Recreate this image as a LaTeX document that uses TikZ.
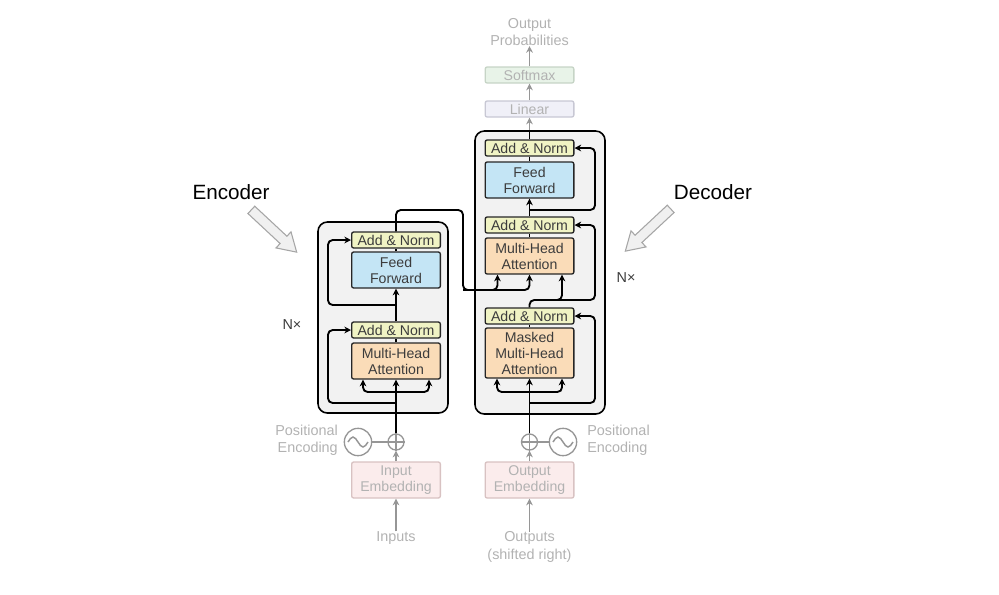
\documentclass[tikz,border=0pt]{standalone}
\usepackage{fontspec}
\setmainfont{Liberation Sans}
\usetikzlibrary{arrows.meta,calc}
\definecolor{blockgray}{RGB}{242,242,242}
\definecolor{addcol}{RGB}{240,243,196}
\definecolor{ffcol}{RGB}{196,229,245}
\definecolor{attcol}{RGB}{250,220,184}
\definecolor{boxtext}{RGB}{60,60,60}
\definecolor{fadetxt}{RGB}{178,178,178}
\definecolor{fadeln}{RGB}{150,150,150}
\definecolor{linfill}{RGB}{240,240,248}
\definecolor{linedge}{RGB}{200,200,212}
\definecolor{smfill}{RGB}{232,243,232}
\definecolor{smedge}{RGB}{198,212,198}
\definecolor{embfill}{RGB}{251,236,236}
\definecolor{embedge}{RGB}{216,194,194}
\begin{document}
\begin{tikzpicture}[x=0.75pt,y=-0.75pt,
  blk/.style={draw=black, line width=1.2pt, fill=blockgray, rounded corners=7pt, minimum width=97.5pt},
  stack/.style={draw=black!85, line width=1pt, rounded corners=1.5pt, minimum width=66.5pt, inner sep=0pt, align=center, text=boxtext, font=\fontsize{10.6}{12}\selectfont},
  addbox/.style={stack, fill=addcol, minimum height=12pt},
  ffbox/.style={stack, fill=ffcol, minimum height=27pt},
  attbox/.style={stack, fill=attcol, minimum height=27pt},
  fadebox/.style={stack, text=fadetxt, minimum height=12pt},
  fadetext/.style={text=fadetxt, align=center, inner sep=0pt, font=\fontsize{10.8}{13}\selectfont},
  lbl/.style={text=boxtext, inner sep=0pt, font=\fontsize{10.8}{12}\selectfont},
  biglbl/.style={text=black, inner sep=0pt, font=\fontsize{15.5}{18}\selectfont},
  conn/.style={line width=1.4pt, rounded corners=3.5pt},
  arr/.style={conn, -{Stealth[length=5pt,width=5pt]}},
  fadeline/.style={draw=fadeln, line width=1.1pt},
  hollow/.style={draw=gray!70, line width=0.8pt, fill=gray!12, line join=miter}]
\useasboundingbox (0,0) rectangle (999,594);

\node[blk, minimum height=143.25pt] (encblock) at (383,317.5) {};
\node[blk, minimum height=212.25pt] (decblock) at (540,272.5) {};

\node[addbox] (eaddtop) at (396,240) {Add \& Norm};
\node[ffbox] (eff) at (396,270) {Feed\\Forward};
\node[addbox] (eaddlow) at (396,330) {Add \& Norm};
\node[attbox] (emha) at (396,361) {Multi-Head\\Attention};

\node[addbox] (daddtop) at (529.5,148) {Add \& Norm};
\node[ffbox] (dff) at (529.5,180) {Feed\\Forward};
\node[addbox] (daddmid) at (529.5,225) {Add \& Norm};
\node[attbox] (dmha) at (529.5,256) {Multi-Head\\Attention};
\node[addbox] (daddlow) at (529.5,316) {Add \& Norm};
\node[attbox, minimum height=37.5pt] (dmmha) at (529.5,353) {Masked\\Multi-Head\\Attention};

\node[fadebox, draw=linedge, fill=linfill] (linear) at (529.5,109) {Linear};
\node[fadebox, draw=smedge, fill=smfill] (softmax) at (529.5,75) {Softmax};
\node[fadetext] (probs) at (529.5,32) {Output\\Probabilities};

\node[fadebox, draw=embedge, fill=embfill, minimum height=27pt] (inemb) at (396,480) {Input\\Embedding};
\node[fadebox, draw=embedge, fill=embfill, minimum height=27pt] (outemb) at (529.5,480) {Output\\Embedding};
\node[fadetext] (inputs) at (396,538) {Inputs};
\node[fadetext] (outputs) at (529.5,547) {Outputs\\(shifted right)};

\node[circle, draw=fadeln, line width=1pt, minimum size=12pt, inner sep=0pt] (eplus) at (396,442) {};
\node[circle, draw=fadeln, line width=1pt, minimum size=20.5pt, inner sep=0pt] (esine) at (358,442) {};
\node[circle, draw=fadeln, line width=1pt, minimum size=12pt, inner sep=0pt] (dplus) at (529.5,442) {};
\node[circle, draw=fadeln, line width=1pt, minimum size=20.5pt, inner sep=0pt] (dsine) at (563,442) {};
\draw[fadeline] (eplus.north) -- (eplus.south) (eplus.west) -- (eplus.east);
\draw[fadeline] (dplus.north) -- (dplus.south) (dplus.west) -- (dplus.east);
\draw[fadeline] ($(esine)+(-10,0)$) sin ++(5,-5) cos ++(5,5) sin ++(5,5) cos ++(5,-5);
\draw[fadeline] ($(dsine)+(-10,0)$) sin ++(5,-5) cos ++(5,5) sin ++(5,5) cos ++(5,-5);
\node[fadetext, align=right, anchor=east] (epos) at (338,440) {Positional\\Encoding};
\node[fadetext, align=left, anchor=west] (dpos) at (587,440) {Positional\\Encoding};

\node[lbl] (nxenc) at (292,325) {N×};
\node[lbl] (nxdec) at (626,278) {N×};
\node[biglbl] (enclbl) at (231,192) {Encoder};
\node[biglbl] (declbl) at (713,192) {Decoder};
\draw[hollow, shift={(274,231)}, rotate=-43] (-31,-5) -- (13,-5) -- (13,-11) -- (31,0) -- (13,11) -- (13,5) -- (-31,5) -- cycle;
\draw[hollow, shift={(648,230)}, rotate=-137] (-31,-5) -- (13,-5) -- (13,-11) -- (31,0) -- (13,11) -- (13,5) -- (-31,5) -- cycle;

% encoder
\draw[arr, fadeline] (inputs) -- (inemb);
\draw[arr, fadeline] (inemb) -- (eplus);
\draw[fadeline] (esine) -- (eplus);
\draw[arr] (eplus) -- (emha);
\coordinate (esplit) at (396,392);
\draw[arr] (esplit) -| ($(emha.south)+(-33,0)$);
\draw[arr] (esplit) -| ($(emha.south)+(33,0)$);
\coordinate (eres1) at (328,403);
\draw[arr] (eplus |- eres1) -- (eres1) |- (eaddlow.west);
\draw[conn] (emha.north) -- (eaddlow.south);
\draw[arr] (eaddlow.north) -- (eff.south);
\coordinate (eres2) at (328,305);
\draw[arr] (eff.south |- eres2) -- (eres2) |- (eaddtop.west);
\draw[conn] (eff.north) -- (eaddtop.south);
\coordinate (eout) at (463,210);
\coordinate (kvbend) at (463,290);
\draw[arr] (eaddtop.north) |- (eout) -- (kvbend) -| (dmha.south);
\draw[arr] (kvbend) -| ($(dmha.south)+(-32,0)$);

% decoder
\draw[arr, fadeline] (outputs) -- (outemb);
\draw[arr, fadeline] (outemb) -- (dplus);
\draw[fadeline] (dplus) -- (dsine);
\draw[arr] (dplus) -- (dmmha);
\coordinate (dsplit) at (529.5,392);
\draw[arr] (dsplit) -| ($(dmmha.south)+(-32.5,0)$);
\draw[arr] (dsplit) -| ($(dmmha.south)+(32.5,0)$);
\coordinate (dres1) at (595,403);
\draw[arr] (dplus |- dres1) -- (dres1) |- (daddlow.east);
\draw[conn] (dmmha.north) -- (daddlow.south);
\coordinate (dres2) at (595,300);
\coordinate (dq) at (540,300);
\draw[arr] (daddlow.north) |- (dres2) |- (daddmid.east);
\draw[arr] (dq) -| ($(dmha.south)+(32.5,0)$);
\draw[conn] (dmha.north) -- (daddmid.south);
\draw[arr] (daddmid.north) -- (dff.south);
\coordinate (dres3) at (595,210);
\draw[arr] (dff.south |- dres3) -- (dres3) |- (daddtop.east);
\draw[conn] (dff.north) -- (daddtop.south);
\draw[arr, fadeline] (daddtop.north) -- (linear.south);
\draw[conn] (daddtop.north) -- (daddtop.north |- decblock.north);
\draw[arr, fadeline] (linear) -- (softmax);
\draw[arr, fadeline] (softmax) -- (probs);
\end{tikzpicture}
\end{document}
